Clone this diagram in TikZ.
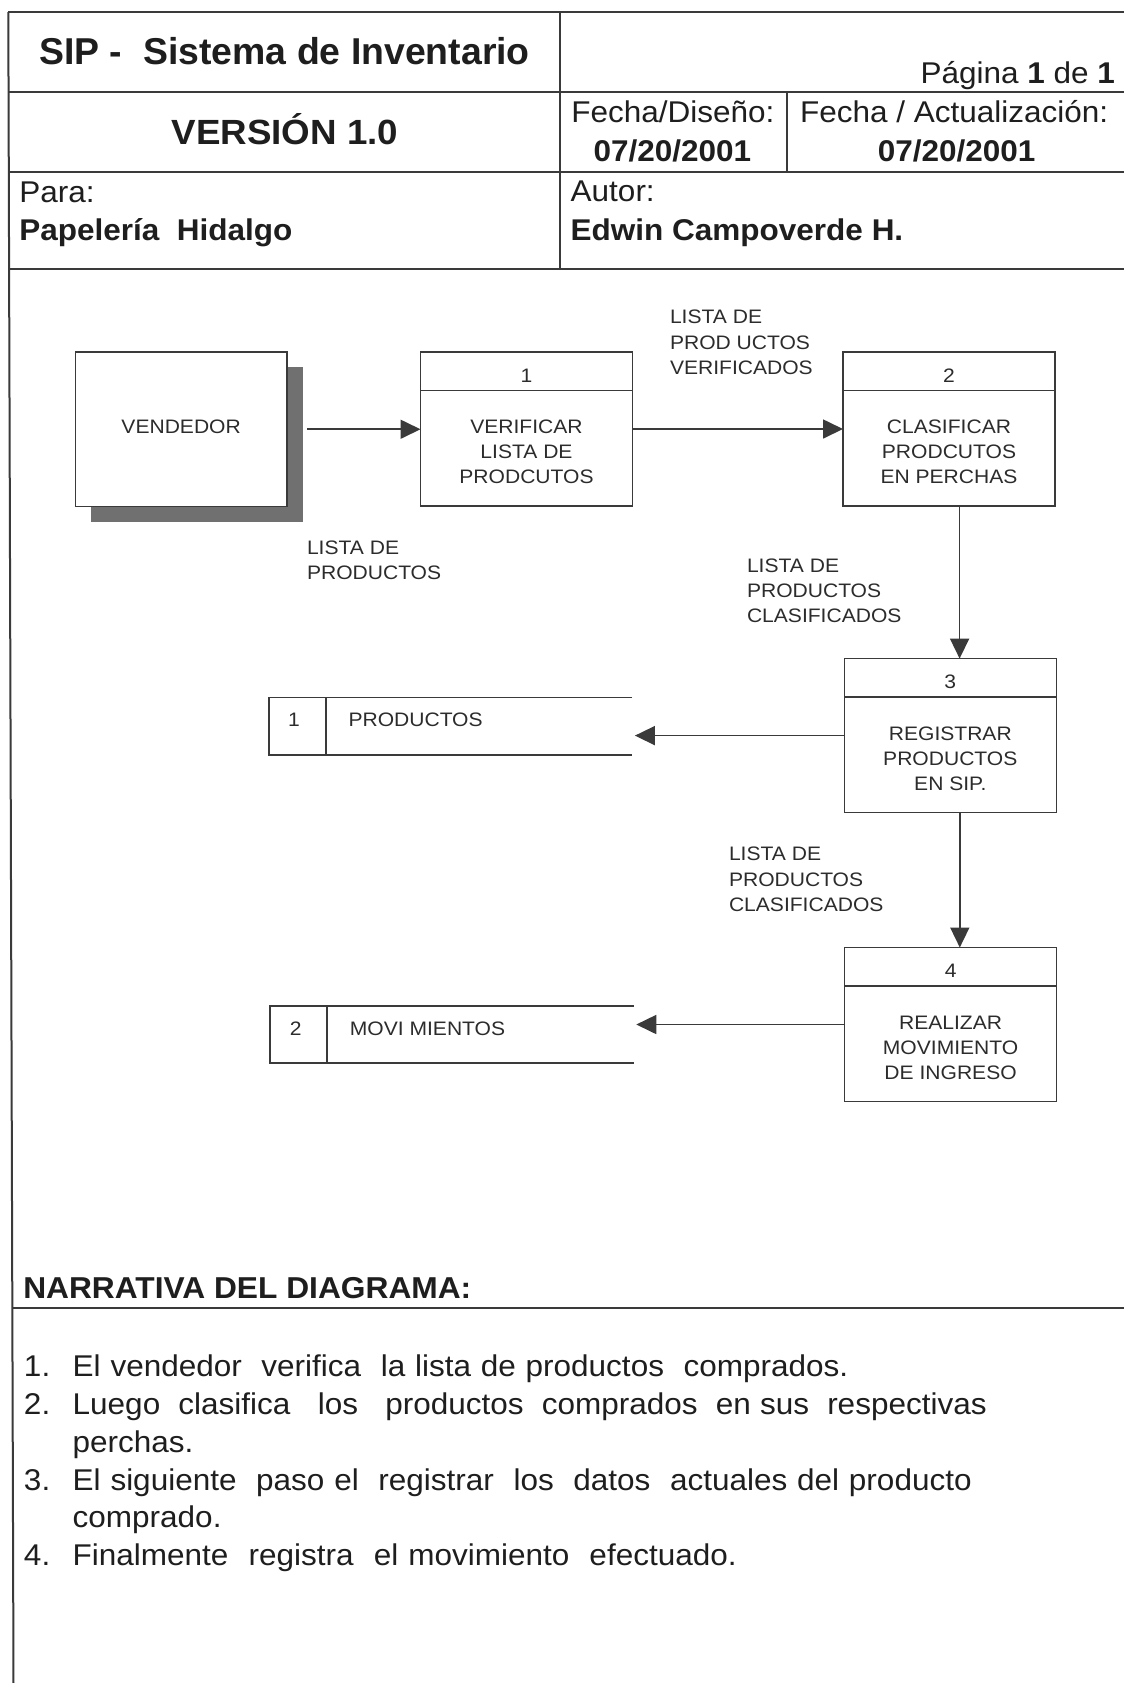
\documentclass[tikz,border=0pt]{standalone}
\usepackage{fontspec}
\setmainfont{Liberation Sans}
\newfontfamily\hdrf[FakeStretch=1.05]{Liberation Sans}
\newfontfamily\ttlf{Liberation Sans}
\newfontfamily\dgf[FakeStretch=1.08]{Liberation Sans}
\usetikzlibrary{arrows.meta}
\definecolor{ink}{HTML}{1E1E1E}
\definecolor{dink}{HTML}{2C2C2C}
\definecolor{rule}{HTML}{3A3A3A}
\definecolor{shade}{HTML}{707070}
\tikzset{
  txt/.style={inner sep=0pt,outer sep=0pt,text=ink},
  ttl/.style={txt,font=\ttlf\bfseries\fontsize{18.7pt}{22pt}\selectfont},
  hdrreg/.style={txt,font=\hdrf\fontsize{15pt}{18pt}\selectfont},
  hdrbold/.style={txt,font=\hdrf\bfseries\fontsize{15pt}{18pt}\selectfont},
  verst/.style={txt,font=\hdrf\bfseries\fontsize{17.5pt}{20pt}\selectfont},
  datest/.style={txt,font=\hdrf\bfseries\fontsize{15pt}{18pt}\selectfont},
  nheadst/.style={txt,font=\hdrf\bfseries\fontsize{15.1pt}{18pt}\selectfont},
  nar/.style={txt,font=\hdrf\fontsize{15pt}{18pt}\selectfont},
  dg/.style={txt,text=dink,font=\dgf\fontsize{9.75pt}{12pt}\selectfont},
  frame/.style={draw=rule,line width=1pt},
  bline/.style={draw=rule,line width=0.8pt},
  proc/.style={draw=rule,line width=0.8pt,minimum width=106pt,minimum height=77pt,inner sep=0pt,outer sep=0pt},
  ent/.style={proc,fill=white,minimum width=105.85pt,minimum height=77.25pt},
  shadowbox/.style={fill=shade,draw=none,minimum width=105.85pt,minimum height=77.25pt,inner sep=0pt,outer sep=0pt},
  storebox/.style={minimum width=181.7pt,minimum height=28.75pt,inner sep=0pt,outer sep=0pt},
  flow/.style={draw=rule,line width=0.85pt,-{Triangle[length=10pt,width=9.5pt]}}
}
\begin{document}
\begin{tikzpicture}[x=0.5pt,y=-0.5pt]
\useasboundingbox (0,0) rectangle (1124,1683);
\fill[white] (0,0) rectangle (1124,1683);

% ---------- frame ----------
\draw[frame] (8.3,12) -- (1124,12);
\draw[frame] (8.3,12) -- (13.5,1683);
\draw[frame] (8.5,92) -- (1124,92);
\draw[frame] (8.8,172) -- (1124,172);
\draw[frame] (9.1,269.3) -- (1124,269.3);
\draw[frame] (560,12) -- (560,269.3);
\draw[frame] (786.7,92) -- (786.7,172);
\draw[frame] (12.3,1308.3) -- (1124,1308.3);

% ---------- header texts ----------
\node[ttl,anchor=base west] (title) at (39.3,64.3) {SIP -\ \ Sistema de Inventario};
\node[hdrreg,anchor=base east] (pagina) at (1115,83) {Página \textbf{1} de \textbf{1}};
\node[verst,anchor=base] (version) at (285,144) {VERSIÓN 1.0};
\node[hdrreg,anchor=base] (fdis) at (672.9,122.7) {Fecha/Diseño:};
\node[datest,anchor=base] (fdisv) at (672.4,161.7) {07/20/2001};
\node[hdrreg,anchor=base west] (fact) at (800,122.7) {Fecha / Actualización:};
\node[datest,anchor=base] (factv) at (956.7,161.7) {07/20/2001};
\node[hdrreg,anchor=base west] (para) at (19.3,202.3) {Para:};
\node[hdrbold,anchor=base west] (parav) at (19.3,240) {Papelería\ \ Hidalgo};
\node[hdrreg,anchor=base west] (autor) at (570.7,201.7) {Autor:};
\node[hdrbold,anchor=base west] (autorv) at (570.7,240) {Edwin Campoverde H.};

% ---------- diagram: external entity ----------
\node[shadowbox] (vendsh) at (197.15,444.25) {};
\node[ent] (vend) at (181.15,429.25) {};
\node[dg,anchor=base] (vendt) at (181.15,433.7) {VENDEDOR};

% ---------- processes ----------
\node[proc] (p1) at (526.5,429) {};
\node[proc] (p2) at (949,429) {};
\node[proc] (p3) at (950.3,735.6) {};
\node[proc] (p4) at (950.6,1024.5) {};
\foreach \p in {p1,p2,p3,p4}{
  \draw[bline] ([yshift=-19.2pt]\p.north west) -- ([yshift=-19.2pt]\p.north east);
}
\node[dg,anchor=base] (p1n) at ([yshift=-15pt]p1.north) {1};
\node[dg,anchor=base] (p2n) at ([yshift=-15pt]p2.north) {2};
\node[dg,anchor=base] (p3n) at ([yshift=-15pt]p3.north) {3};
\node[dg,anchor=base] (p4n) at ([yshift=-15pt]p4.north) {4};

\node[dg,anchor=base] (p1a) at ([yshift=-40.75pt]p1.north) {VERIFICAR};
\node[dg,anchor=base] (p1b) at ([yshift=-53.25pt]p1.north) {LISTA DE};
\node[dg,anchor=base] (p1c) at ([yshift=-65.75pt]p1.north) {PRODCUTOS};

\node[dg,anchor=base] (p2a) at ([yshift=-40.75pt]p2.north) {CLASIFICAR};
\node[dg,anchor=base] (p2b) at ([yshift=-53.25pt]p2.north) {PRODCUTOS};
\node[dg,anchor=base] (p2c) at ([yshift=-65.75pt]p2.north) {EN PERCHAS};

\node[dg,anchor=base] (p3a) at ([yshift=-40.75pt]p3.north) {REGISTRAR};
\node[dg,anchor=base] (p3b) at ([yshift=-53.25pt]p3.north) {PRODUCTOS};
\node[dg,anchor=base] (p3c) at ([yshift=-65.75pt]p3.north) {EN SIP.};

\node[dg,anchor=base] (p4a) at ([yshift=-40.75pt]p4.north) {REALIZAR};
\node[dg,anchor=base] (p4b) at ([yshift=-53.25pt]p4.north) {MOVIMIENTO};
\node[dg,anchor=base] (p4c) at ([yshift=-65.75pt]p4.north) {DE INGRESO};

% ---------- data stores ----------
\node[storebox] (s1) at (450.4,726.35) {};
\node[storebox] (s2) at (451.8,1034.5) {};
\foreach \s in {s1,s2}{
  \draw[bline] (\s.north east) -- (\s.north west) -- (\s.south west) -- (\s.south east);
  \draw[bline] ([xshift=28.5pt]\s.north west) -- ([xshift=28.5pt]\s.south west);
}
\node[dg,anchor=base] (s1n) at ([xshift=12.6pt,yshift=-14.65pt]s1.north west) {1};
\node[dg,anchor=base west] (s1t) at ([xshift=39.9pt,yshift=-14.65pt]s1.north west) {PRODUCTOS};
\node[dg,anchor=base] (s2n) at ([xshift=12.8pt,yshift=-14.65pt]s2.north west) {2};
\node[dg,anchor=base west] (s2t) at ([xshift=39.9pt,yshift=-14.65pt]s2.north west) {MOVI MIENTOS};

% ---------- flows ----------
\draw[flow] ([xshift=10pt]vend.east) -- (vend.east -| p1.west);
\draw[flow] (p1.east) -- (p2.west);
\draw[flow] ([xshift=5.3pt]p2.south) -- ([xshift=5.3pt]p2.south |- p3.north);
\draw[flow] (p3.west) -- ([xshift=1.4pt]p3.west -| s1.east);
\draw[flow] ([xshift=4.75pt]p3.south) -- ([xshift=4.75pt]p3.south |- p4.north);
\draw[flow] (p4.west) -- ([xshift=1.4pt]p4.west -| s2.east);

% ---------- flow labels ----------
\node[dg,anchor=base west] (l1a) at (670,323.7) {LISTA DE};
\node[dg,anchor=base west] (l1b) at (670,349.3) {PROD UCTOS};
\node[dg,anchor=base west] (l1c) at (670,374.3) {VERIFICADOS};

\node[dg,anchor=base west] (l2a) at (307,554.7) {LISTA DE};
\node[dg,anchor=base west] (l2b) at (307,579.7) {PRODUCTOS};

\node[dg,anchor=base west] (l3a) at (747,572.7) {LISTA DE};
\node[dg,anchor=base west] (l3b) at (747,597.7) {PRODUCTOS};
\node[dg,anchor=base west] (l3c) at (747,622.7) {CLASIFICADOS};

\node[dg,anchor=base west] (l4a) at (729,860.3) {LISTA DE};
\node[dg,anchor=base west] (l4b) at (729,886) {PRODUCTOS};
\node[dg,anchor=base west] (l4c) at (729,911) {CLASIFICADOS};

% ---------- narrative ----------
\node[nheadst,anchor=base west] (nhead) at (23.3,1298.3) {NARRATIVA DEL DIAGRAMA:};

\node[nar,anchor=base west] (n1) at (24,1376.5) {1.};
\node[nar,anchor=base west] (t1) at (72.7,1376.5) {\makebox[387.8pt][s]{El vendedor\ \ verifica\ \ la lista de productos\ \ comprados.}};
\node[nar,anchor=base west] (n2) at (24,1414) {2.};
\node[nar,anchor=base west] (t2) at (72.7,1414) {\makebox[457pt][s]{Luego\ \ clasifica\ \ \ los\ \ \ productos\ \ comprados\ \ en sus\ \ respectivas}};
\node[nar,anchor=base west] (t2b) at (72.7,1452.7) {perchas.};
\node[nar,anchor=base west] (n3) at (24,1490) {3.};
\node[nar,anchor=base west] (t3) at (72.7,1490) {\makebox[449.5pt][s]{El siguiente\ \ paso el\ \ registrar\ \ los\ \ datos\ \ actuales del producto}};
\node[nar,anchor=base west] (t3b) at (72.7,1527.7) {comprado.};
\node[nar,anchor=base west] (n4) at (24,1565) {4.};
\node[nar,anchor=base west] (t4) at (72.7,1565) {\makebox[332pt][s]{Finalmente\ \ registra\ \ el movimiento\ \ efectuado.}};
\end{tikzpicture}
\end{document}
